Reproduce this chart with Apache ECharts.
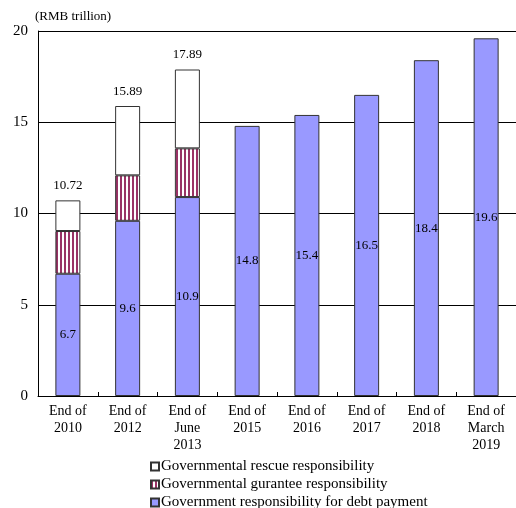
<!DOCTYPE html>
<html>
<head>
<meta charset="utf-8">
<script src="https://cdn.jsdelivr.net/npm/echarts@6/dist/echarts.min.js"></script>
<style>
  html, body { margin: 0; padding: 0; background: #fff; }
  #main { width: 516px; height: 508px; }
</style>
</head>
<body>
<div id="main"></div>
<script>
// data (RMB trillion)
var categories = ['End of\n2010', 'End of\n2012', 'End of\nJune\n2013', 'End of\n2015',
  'End of\n2016', 'End of\n2017', 'End of\n2018', 'End of\nMarch\n2019'];
var debtValues = [6.7, 9.6, 10.9, 14.8, 15.4, 16.5, 18.4, 19.6];
var guaranteeValues = [2.34, 2.49, 2.67, '-', '-', '-', '-', '-'];
var rescueValues = [1.68, 3.8, 4.32, '-', '-', '-', '-', '-'];
var totalLabels = ['10.72', '15.89', '17.89', '', '', '', '', ''];
var yTicks = [0, 5, 10, 15, 20];

var serif = '"Liberation Serif", "DejaVu Serif", serif';

// vertical purple / white stripes
function stripePattern() {
  var c = document.createElement('canvas');
  c.width = 4;
  c.height = 4;
  var ctx = c.getContext('2d');
  ctx.fillStyle = '#ffffff';
  ctx.fillRect(0, 0, 4, 4);
  ctx.fillStyle = '#993366';
  ctx.fillRect(0, 0, 2, 4);
  return c;
}

var chart = echarts.init(document.getElementById('main'), null, { renderer: 'canvas' });

var option = {
  animation: false,
  backgroundColor: '#fff',
  textStyle: { fontFamily: serif, color: '#000' },
  grid: { left: 38, top: 31, width: 479, height: 365 },
  legend: {
    orient: 'vertical',
    left: 150,
    top: 459,
    height: 70,
    padding: 0,
    itemWidth: 8,
    itemHeight: 8,
    itemGap: 3,
    icon: 'rect',
    textStyle: { fontFamily: serif, fontSize: 15, lineHeight: 15, color: '#000', padding: [0, 0, 0, -3] },
    data: ['Governmental rescue responsibility', 'Governmental gurantee responsibility',
      'Government responsibility for debt payment']
  },
  xAxis: {
    type: 'category',
    data: categories,
    axisLine: { lineStyle: { color: '#000', width: 1 } },
    axisTick: { show: true, inside: true, length: 4, lineStyle: { color: '#000' } },
    axisLabel: { fontFamily: serif, fontSize: 14, color: '#000', lineHeight: 17, margin: 7, interval: 0 }
  },
  yAxis: {
    type: 'value',
    min: yTicks[0],
    max: yTicks[yTicks.length - 1],
    interval: 5,
    name: '(RMB trillion)',
    nameLocation: 'end',
    nameGap: 8,
    nameTextStyle: { fontFamily: serif, fontSize: 13, color: '#000', align: 'left', padding: [0, 0, 0, -3] },
    axisLine: { show: true, lineStyle: { color: '#000', width: 1 } },
    axisTick: { show: false },
    axisLabel: { fontFamily: serif, fontSize: 15, color: '#000', margin: 10 },
    splitLine: { show: true, lineStyle: { color: '#000', width: 1 } }
  },
  series: [
    {
      name: 'Government responsibility for debt payment',
      type: 'bar',
      stack: 'total',
      barWidth: 25,
      data: debtValues,
      itemStyle: { color: '#9999ff', borderColor: '#333', borderWidth: 1 },
      label: { show: true, position: 'inside', fontFamily: serif, fontSize: 13, color: '#000' }
    },
    {
      name: 'Governmental gurantee responsibility',
      type: 'bar',
      stack: 'total',
      barWidth: 25,
      data: guaranteeValues,
      itemStyle: { color: { image: stripePattern(), repeat: 'repeat' }, borderColor: '#333', borderWidth: 1 }
    },
    {
      name: 'Governmental rescue responsibility',
      type: 'bar',
      stack: 'total',
      barWidth: 25,
      data: rescueValues,
      itemStyle: { color: '#ffffff', borderColor: '#333', borderWidth: 1 },
      label: {
        show: true,
        position: 'top',
        distance: 8,
        fontFamily: serif,
        fontSize: 13,
        color: '#000',
        formatter: function (p) { return totalLabels[p.dataIndex]; }
      }
    }
  ]
};

chart.setOption(option);
</script>
</body>
</html>
